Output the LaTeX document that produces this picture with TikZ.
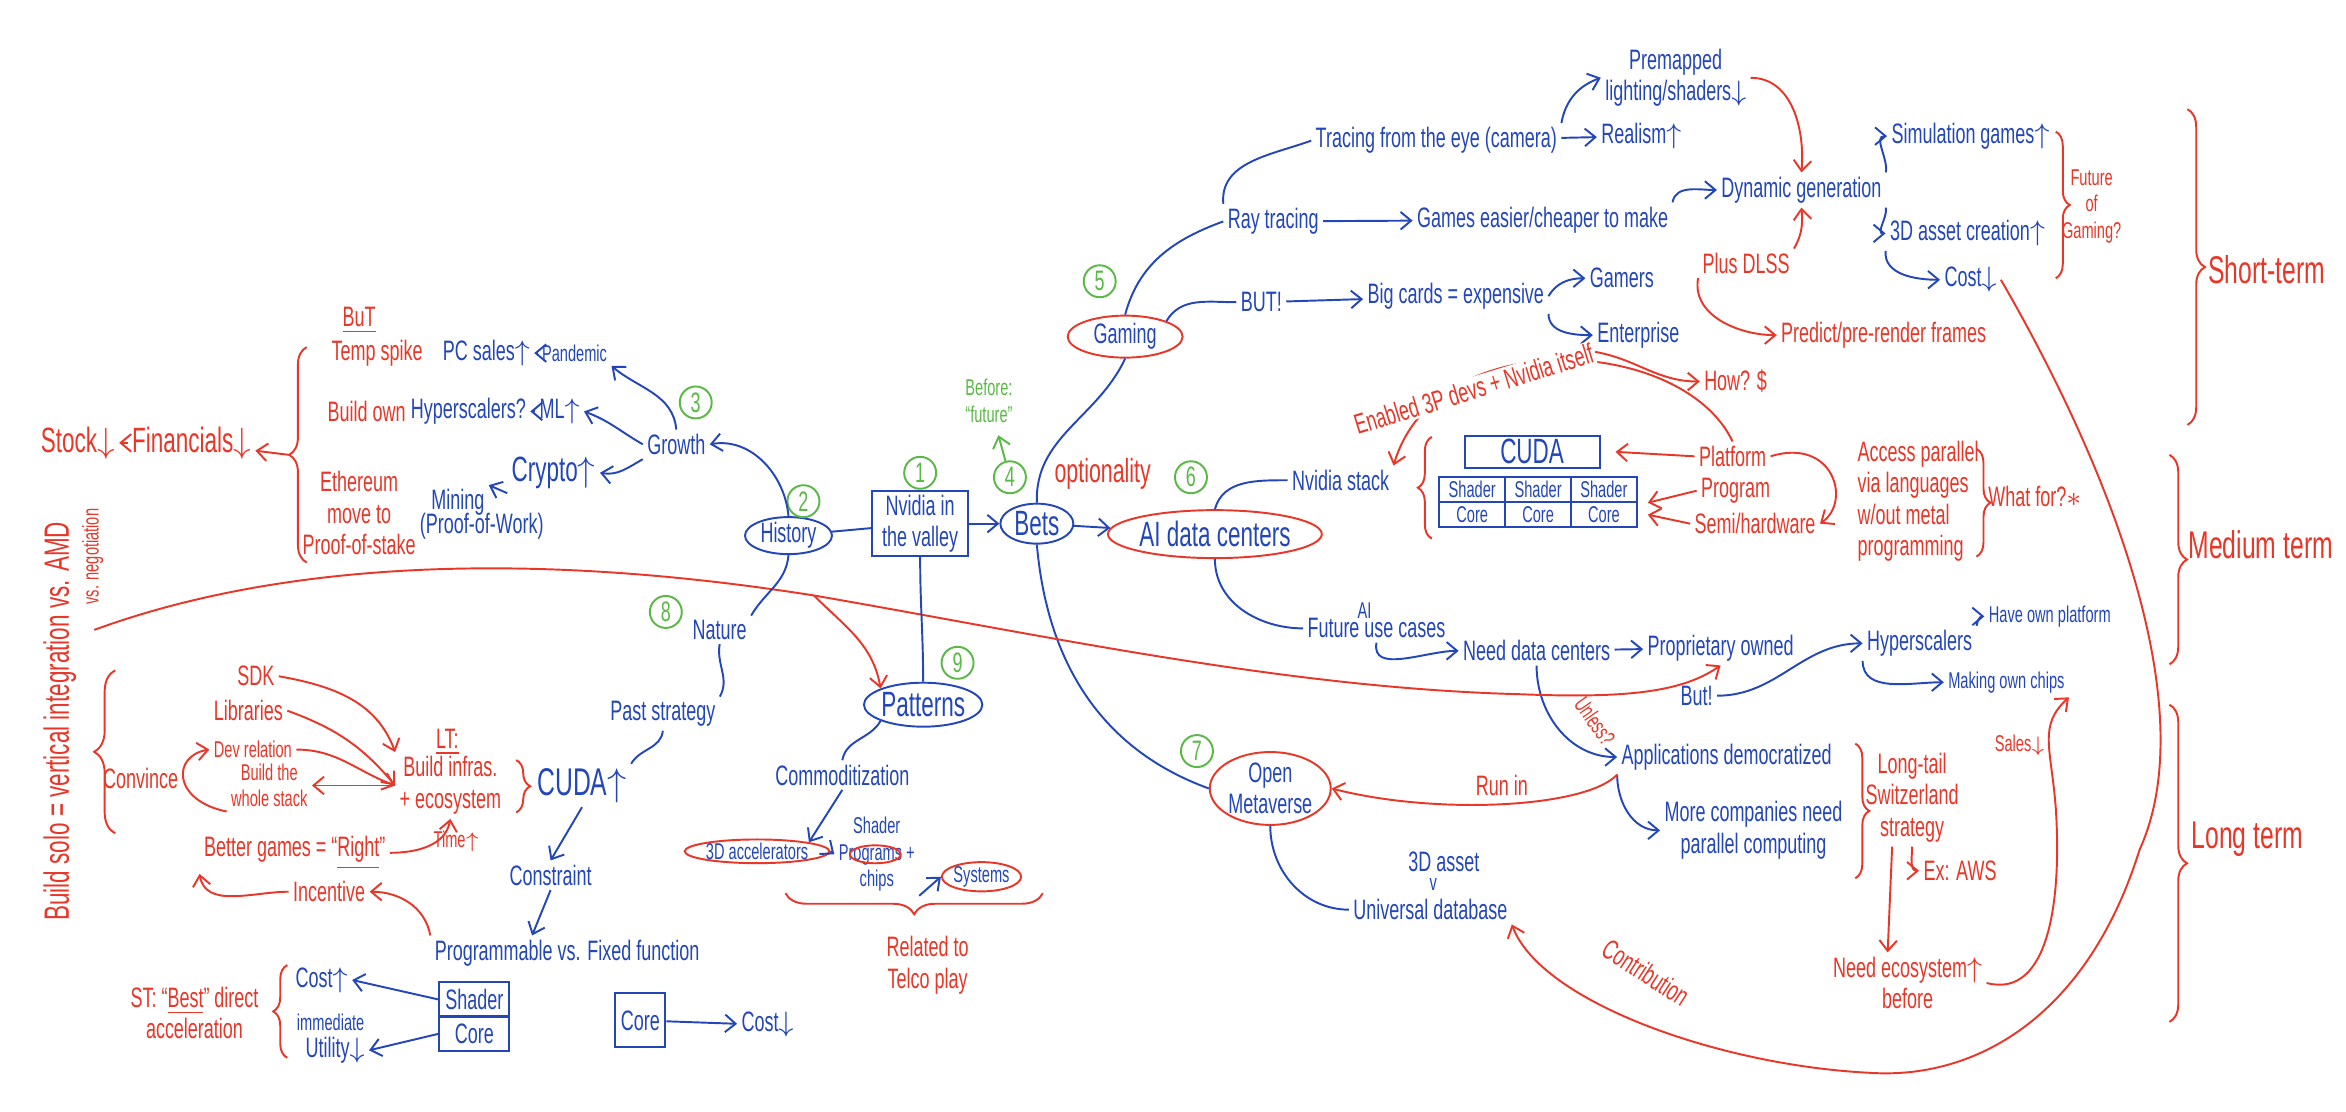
\documentclass[tikz,border=0pt]{standalone}
\usepackage{fontspec}
\setmainfont[FakeStretch=0.64]{Liberation Sans}
\usetikzlibrary{arrows.meta,shapes.geometric,decorations.pathreplacing}
\definecolor{blu}{RGB}{35,70,185}
\definecolor{rd}{RGB}{232,55,40}
\definecolor{grn}{RGB}{90,185,70}
\begin{document}
\begin{tikzpicture}[x=0.014962cm,y=-0.014962cm,line width=0.55pt,
  >={Straight Barb[length=3pt,width=5pt]},
  b/.style={text=blu,inner sep=1pt,font=\fontsize{8}{9}\selectfont,align=center},
  r/.style={text=rd,inner sep=1pt,font=\fontsize{8}{9}\selectfont,align=center},
  sm/.style={font=\fontsize{6.5}{7.5}\selectfont},
  big/.style={font=\fontsize{10}{11}\selectfont},
  huge/.style={font=\fontsize{11}{12}\selectfont},
  bl/.style={draw=blu},
  rl/.style={draw=rd},
  num/.style={circle,draw=grn,text=grn,inner sep=0pt,minimum size=0.32cm,font=\fontsize{8}{8}\selectfont},
  elb/.style={ellipse,draw=blu,inner sep=0pt},
  elr/.style={ellipse,draw=rd,inner sep=0pt},
  brc/.style={decorate,decoration={brace,amplitude=#1}},
  brc/.default=5pt]
\useasboundingbox[fill=white] (0,0) rectangle (1568,742.6);

% ---------- left: growth ----------
\node[r] (but1) at (240,214) {\underline{BuT}};
\node[r] (temp) at (252,236) {Temp spike};
\node[r] (buildown) at (245,275) {Build own};
\node[r] (eth) at (240,343) {Ethereum\\move to\\Proof-of-stake};
\draw[rd,brc] (205,376) -- (205,232);
\coordinate (brL) at (193,304);
\node[r,big] (fin) at (128,296) {Financials$\downarrow$};
\node[r,big] (stock) at (52,296) {Stock$\downarrow$};
\draw[rd,->] (brL) -- (fin);
\draw[rd,->] (fin) -- (stock);

\node[b] (pcs) at (325,236) {PC sales$\uparrow$};
\node[b,sm] (pand) at (384,236) {Pandemic};
\draw[blu,->] (pand) -- (pcs);
\node[b] (hyp1) at (313,275) {Hyperscalers?};
\node[b] (ml) at (374,275) {ML$\uparrow$};
\draw[blu,->] (ml) -- (hyp1);
\node[b,big] (crypto) at (370,316) {Crypto$\uparrow$};
\node[b] (mining) at (306,336) {Mining};
\node[b] (pow) at (322,352) {(Proof-of-Work)};
\draw[blu,->] (crypto.south west) -- (mining.north east);
\node[b] (growth) at (452,297) {Growth};
\node[num] (n3) at (465,269) {3};
\draw[blu,->] (growth.north) to[out=95,in=-40] (pand.south east);
\draw[blu,->] (growth.west) to[out=150,in=-20] (ml.east);
\draw[blu,->] (growth.south west) to[out=-150,in=-10] (crypto.east);

% ---------- center ----------
\node[b,elb,minimum width=0.87cm,minimum height=0.37cm] (hist) at (527,358) {History};
\node[num] (n2) at (537,335) {2};
\draw[blu,->] (hist.north) to[out=95,in=10] (growth.east);
\node[b,bl,minimum width=0.96cm,minimum height=0.5cm] (nv) at (615,350) {Nvidia in\\the valley};
\node[num] (n1) at (615,316) {1};
\node[b,elb,big,minimum width=0.73cm,minimum height=0.4cm] (bets) at (693,350) {Bets};
\node[num] (n4) at (675,319) {4};
\node[text=grn,sm,align=center] (before) at (661,268) {Before:\\``future''};
\draw[grn,->] (n4) -- (before);
\node[r,font=\fontsize{9.5}{10}\selectfont] (opt) at (737,317) {optionality};
\node[b,elr,big,minimum width=2.06cm,minimum height=0.48cm] (aidc) at (812,357) {AI data centers};
\node[num] (n6) at (796,319) {6};
\draw[blu] (hist) -- (nv);
\draw[blu,->] (nv) -- (bets);
\draw[blu,->] (bets) -- (aidc);

% ---------- gaming ----------
\node[b,elr,minimum width=1.15cm,minimum height=0.42cm] (gaming) at (752,225) {Gaming};
\node[num] (n5) at (735,188) {5};
\draw[blu] (bets.north) to[out=92,in=-115] (gaming.south);
\node[b] (ray) at (851,148) {Ray tracing};
\draw[blu] (gaming.north) to[out=75,in=200] (ray.west);
\node[b] (tracing) at (960,94) {Tracing from the eye (camera)};
\draw[blu] (ray.north west) to[out=95,in=200] (tracing.west);
\node[b] (realism) at (1097,91) {Realism$\uparrow$};
\draw[blu,->] (tracing) -- (realism);
\node[b] (premap) at (1120,52) {Premapped\\lighting/shaders$\downarrow$};
\draw[blu,->] (tracing.north east) to[out=80,in=200] (premap.west);
\node[b] (games) at (1031,147) {Games easier/cheaper to make};
\draw[blu,->] (ray) -- (games);
\node[b] (dyn) at (1204,127) {Dynamic generation};
\draw[blu,->] (games.north east) to[out=80,in=180] (dyn.west);
\draw[rd,->] (premap.east) to[out=0,in=85] (dyn.north);
\node[b] (sim) at (1317,91) {Simulation games$\uparrow$};
\draw[blu,->] (dyn.north east) to[out=80,in=180] (sim.west);
\node[b] (asset3d) at (1315,156) {3D asset creation$\uparrow$};
\draw[blu,->] (dyn.south east) to[out=-80,in=180] (asset3d.west);
\node[b] (cost1) at (1317,187) {Cost$\downarrow$};
\draw[blu,->] (asset3d.south west) to[out=-95,in=180] (cost1.west);
\draw[rd,brc=4pt] (1374,88) -- (1374,186);
\node[r,sm] (future) at (1398,138) {Future\\of\\Gaming?};
\node[r] (dlss) at (1167,176) {Plus DLSS};
\draw[rd,->] (dlss.north east) to[out=60,in=-85] (dyn.south);
\node[r] (predict) at (1259,224) {Predict/pre-render frames};
\draw[rd,->] (dlss.south west) to[out=-100,in=180] (predict.west);
\node[b] (butg) at (843,202) {BUT!};
\draw[blu] (gaming.north east) to[out=60,in=180] (butg.west);
\node[b] (big) at (973,198) {Big cards = expensive};
\draw[blu,->] (butg) -- (big);
\node[b] (gamers) at (1084,186) {Gamers};
\node[b] (ent) at (1095,224) {Enterprise};
\draw[blu,->] (big.east) to[out=60,in=180] (gamers.west);
\draw[blu,->] (big.south east) to[out=-90,in=180] (ent.west);

% ---------- Nvidia stack ----------
\node[b] (stack) at (896,321) {Nvidia stack};
\draw[blu] (aidc.north) to[out=75,in=180] (stack.west);
\draw[rd,brc=4pt] (957,360) -- (957,292);
\node[b,bl,big,minimum width=1.35cm,minimum height=0.31cm] (cuda) at (1024,302) {CUDA};
\foreach \i/\x in {1/984,2/1028,3/1072}{
  \node[b,bl,sm,minimum width=0.66cm,minimum height=0.25cm,inner sep=0pt] (sh\i) at (\x,327) {Shader};
  \node[b,bl,sm,minimum width=0.66cm,minimum height=0.25cm,inner sep=0pt] (co\i) at (\x,344) {Core};
}
\node[r] (plat) at (1158,305) {Platform};
\node[r] (prog) at (1160,328) {Program};
\node[r] (semi) at (1173,350) {Semi/hardware};
\draw[rd,->] (plat.west) -- ([xshift=0.15cm]cuda.east);
\draw[rd,->] (prog.west) -- ([xshift=0.1cm]sh3.south east);
\draw[rd,->] (semi.west) -- ([xshift=0.1cm]co3.east);
\draw[rd,->] (plat.east) .. controls (1225,292) and (1238,335) .. (semi.east);
\node[r,align=left] (access) at (1282,335) {Access parallel\\via languages\\w/out metal\\programming};
\draw[rd,brc=4pt] (1321,300) -- (1321,372);
\node[r] (whatfor) at (1360,332) {What for?$\ast$};
\draw[rd,->] (plat.north) .. controls (1125,225) and (960,215) .. (stack.north east);
\node[r,rotate=17,fill=white,inner sep=0.5pt] (enabled) at (985,260) {Enabled 3P devs + Nvidia itself};
\node[r] (how) at (1160,255) {How? \$};
\draw[rd,->] (enabled.east) to[out=-10,in=180] (how.west);

% ---------- data centers ----------
\node[b] (fuc) at (920,420) {Future use cases};
\node[b,sm] (ai2) at (912,408) {AI};
\draw[blu] (aidc.south) to[out=-90,in=180] (fuc.west);
\node[b] (ndc) at (1027,435) {Need data centers};
\draw[blu,->] (fuc.south) to[out=-100,in=180] (ndc.west);
\node[b] (prop) at (1150,433) {Proprietary owned};
\draw[blu,->] (ndc) -- (prop);
\node[b] (butl) at (1134,465) {But!};
\node[b] (hyp2) at (1283,430) {Hyperscalers};
\draw[blu,->] (butl.east) to[out=0,in=180] (hyp2.west);
\node[b,sm] (own) at (1370,412) {Have own platform};
\node[b,sm] (chips) at (1341,456) {Making own chips};
\draw[blu,->] (hyp2.north east) to[out=80,in=180] (own.west);
\draw[blu,->] (hyp2.south west) to[out=-90,in=180] (chips.west);
\node[b] (appd) at (1154,506) {Applications democratized};
\draw[blu,->] (ndc.south) to[out=-90,in=180] (appd.west);
\node[r,sm,rotate=-55] (unless) at (1066,482) {Unless?};
\node[b] (more) at (1172,555) {More companies need\\parallel computing};
\draw[blu,->] (appd.south west) to[out=-90,in=180] (more.west);

% ---------- metaverse ----------
\node[b,elr,minimum width=1.21cm,minimum height=0.64cm] (om) at (849,527) {Open\\Metaverse};
\node[num] (n7) at (800,502) {7};
\draw[blu] (bets.south) to[out=-85,in=160] (om.west);
\draw[rd,->] (appd.south west) .. controls (1060,540) and (960,545) .. (om.east)
  node[r,pos=0.5,above=1pt] (runin) {Run in};
\node[b] (a3d) at (965,576) {3D asset};
\node[b,sm,inner sep=0pt] (vv) at (958,591) {v};
\node[b] (uni) at (956,608) {Universal database};
\draw[blu] (om.south) to[out=-90,in=180] (uni.west);
\draw[rd,brc=4pt] (1240,497) -- (1240,587);
\node[r] (ltail) at (1278,533) {Long-tail\\Switzerland\\strategy};
\node[r] (aws) at (1310,582) {Ex: AWS};
\draw[rd,->] (ltail.south) to[out=-90,in=180] (aws.west);
\node[r] (needeco) at (1275,657) {Need ecosystem$\uparrow$\\before};
\draw[rd,->] ([xshift=-0.2cm]ltail.south) -- ([xshift=-0.2cm]needeco.north);
\draw[rd,->] (needeco.east) .. controls (1370,668) and (1378,600) .. (1374,540) .. controls (1371,500) and (1362,485) .. (chips.south east);
\node[r,sm] (sales) at (1350,498) {Sales$\downarrow$};
\draw[rd,->] (cost1.east) .. controls (1420,330) and (1470,480) .. (1430,568) .. controls (1395,680) and (1320,722) .. (1249,717) .. controls (1150,712) and (1030,670) .. (uni.south east);
\node[r,rotate=-33] (contrib) at (1100,650) {Contribution};

% ---------- build solo ----------
\coordinate (bs) at (63,421);
\coordinate (br) at (544,398);
\draw[rd,->] (bs) .. controls (230,360) and (430,380) .. (br) .. controls (700,425) and (860,460) .. (1016,464) .. controls (1090,467) and (1125,462) .. (prop.south);
\node[r,big,rotate=90] (solo) at (40,482) {Build solo = vertical integration vs. AMD};
\node[r,sm,rotate=90] (neg) at (62,372) {vs. negotiation};
\draw[rd,brc=6pt] (77,557) -- (77,448);
\node[r] (sdk) at (171,452) {SDK};
\node[r] (lib) at (166,475) {Libraries};
\node[r,sm] (dev) at (169,501) {Dev relation};
\node[r,sm] (whole) at (180,525) {Build the\\whole stack};
\node[r] (conv) at (94,520) {Convince};
\node[r] (lt) at (299,496) {\underline{LT:}};
\node[r] (binf) at (301,525) {Build infras.\\+ ecosystem};
\draw[rd,->] (sdk.east) to[out=-10,in=110] (binf.north west);
\draw[rd,->] (lib.east) to[out=-20,in=130] (binf.west);
\draw[rd,->] (dev.east) to[out=0,in=160] (binf.west);
\draw[rd,->] (binf.west) -- (whole.east);
\draw[rd,->] (whole.south west) .. controls (115,535) and (115,505) .. (dev.west);
\draw[rd,brc=4pt] (345,508) -- (345,543);
\node[b,huge] (cuda2) at (389,525) {CUDA$\uparrow$};
\node[b] (nature) at (481,421) {Nature};
\node[num] (n8) at (445,409) {8};
\draw[blu] (hist.south) to[out=-95,in=60] (nature.north east);
\node[b] (past) at (443,477) {Past strategy};
\draw[blu] (nature.south) to[out=-100,in=60] (past.north east);
\draw[blu] (past.south) to[out=-95,in=60] (cuda2.north east);
\node[r] (better) at (197,570) {Better games = ``\underline{Right}''};
\node[r,sm] (time) at (305,562) {Time$\uparrow$};
\draw[rd,->] (better.east) to[out=0,in=-100] (binf.south);
\node[r] (incent) at (220,596) {Incentive};
\draw[rd,->] (incent.west) to[out=180,in=-80] (better.south west);
\node[b] (constr) at (368,585) {Constraint};
\draw[blu,->] (cuda2.south) -- (constr.north);
\node[b] (progvs) at (379,637) {Programmable vs. Fixed function};
\draw[blu,->] (constr.south) -- ([xshift=-0.35cm]progvs.north);
\draw[rd,->] (progvs.north west) to[out=100,in=0] (incent.east);
\node[b,bl,minimum width=0.7cm,minimum height=0.34cm] (psh) at (317,668) {Shader};
\node[b,bl,minimum width=0.7cm,minimum height=0.34cm] (pco) at (317,691) {Core};
\node[b] (costu) at (215,655) {Cost$\uparrow$};
\node[b,sm] (imm) at (221,683) {immediate};
\node[b] (util) at (224,702) {Utility$\downarrow$};
\draw[blu,->] (psh.west) -- (costu.east);
\draw[blu,->] (pco.west) -- (util.east);
\draw[rd,brc=4pt] (192,707) -- (192,645);
\node[r] (st) at (130,677) {ST: ``\underline{Best}'' direct\\acceleration};
\node[b,bl,minimum width=0.5cm,minimum height=0.54cm] (fco) at (428,682) {Core};
\node[b] (costd) at (513,685) {Cost$\downarrow$};
\draw[blu,->] (fco) -- (costd);

% ---------- patterns ----------
\node[b,elb,big,minimum width=1.06cm,minimum height=0.44cm] (pat) at (617,471) {Patterns};
\node[num] (n9) at (640,443) {9};
\draw[blu] (nv.south) to[out=-90,in=90] (pat.north);
\draw[rd,->] (br) to[out=-45,in=100] (pat.north west);
\node[b] (comm) at (563,518) {Commoditization};
\draw[blu] (pat.south west) to[out=-120,in=80] (comm.north);
\node[b,sm,elr] (acc3d) at (506,569) {3D accelerators};
\node[b,sm] (shp) at (586,571) {Shader\\Programs +\\chips};
\draw[rd] (585,571) ellipse (17 and 6);
\node[b,sm,elr] (sys) at (656,586) {Systems};
\draw[blu,->] (comm.south) -- (acc3d.north east);
\draw[blu,->] (acc3d.east) -- (shp.west);
\draw[blu,->] (shp.south east) -- (sys.west);
\draw[rd,brc=6pt] (697,597) -- (525,597);
\node[r] (telco) at (620,645) {Related to\\Telco play};

% ---------- terms ----------
\draw[rd,brc=5pt] (1462,73) -- (1462,284);
\draw[rd,brc=5pt] (1450,304) -- (1450,444);
\draw[rd,brc=5pt] (1450,471) -- (1450,683);
\node[r,huge] (short) at (1515,180) {Short-term};
\node[r,huge] (medium) at (1511,364) {Medium term};
\node[r,huge] (long) at (1502,561) {Long term};
\end{tikzpicture}
\end{document}
